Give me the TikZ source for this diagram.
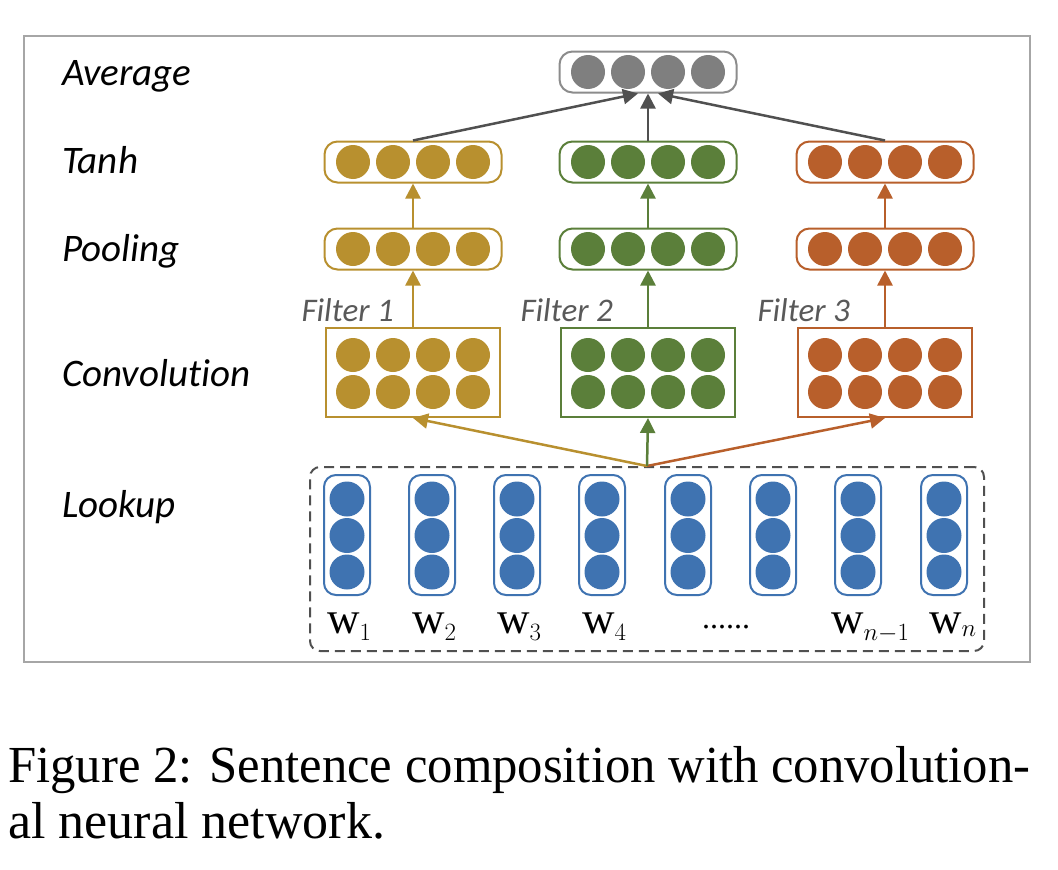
\documentclass[tikz,border=0pt]{standalone}
\usepackage{fontspec}
\setmainfont{Liberation Serif}
\newfontfamily\calib[Ligatures=NoCommon]{Carlito}
\usetikzlibrary{arrows.meta}
\definecolor{cy}{HTML}{B8902F}
\definecolor{cg}{HTML}{5B7F3A}
\definecolor{co}{HTML}{B85F2B}
\definecolor{cb}{HTML}{3F73B1}
\definecolor{cgr}{HTML}{7F7F7F}
\definecolor{avgb}{HTML}{8C8C8C}
\definecolor{arr}{HTML}{505050}
\definecolor{framec}{HTML}{A6A6A6}
\definecolor{filtc}{HTML}{595959}
\tikzset{
  dot/.style={circle, fill=#1, minimum size=34pt, inner sep=0pt},
  wdot/.style={circle, fill=cb, minimum size=35pt, inner sep=0pt},
  rowbox/.style={draw=#1, line width=2pt, rounded corners=13pt, minimum width=177pt, minimum height=41pt, inner sep=0pt},
  convbox/.style={draw=#1, line width=2pt, minimum width=174pt, minimum height=89pt, inner sep=0pt},
  wordbox/.style={draw=cb, line width=2pt, rounded corners=12pt, minimum width=46pt, minimum height=120pt, inner sep=0pt},
  lookbox/.style={draw=arr, line width=2pt, dash pattern=on 10pt off 6pt, rounded corners=10pt, minimum width=674pt, minimum height=184pt, inner sep=0pt},
  framebox/.style={draw=framec, line width=1.5pt, minimum width=1006pt, minimum height=626pt, inner sep=0pt},
  lab/.style={font=\calib\itshape\fontsize{39}{41}\selectfont, anchor=base west, inner sep=0pt},
  filt/.style={font=\calib\itshape\fontsize{33}{35}\selectfont, text=filtc, anchor=base east, inner sep=0pt},
  wlab/.style={font=\fontsize{45}{47}\selectfont, anchor=base west, inner sep=0pt},
  ar/.style={draw=#1, line width=2.5pt, -{Triangle[length=15pt,width=15pt]}},
  captext/.style={font=\fontsize{52}{58}\selectfont, anchor=base west, inner sep=0pt}
}
\begin{document}
\begin{tikzpicture}[x=1pt,y=-1pt]
\useasboundingbox (0,0) rectangle (1058,870);
\node[framebox] (frame) at (527,349) {};

% left labels
\node[lab] (lAvg) at (62,85) {Average};
\node[lab] (lTanh) at (62,173) {Tanh};
\node[lab] (lPool) at (62,261) {Pooling};
\node[lab] (lConv) at (62,386) {Convolution};
\node[lab] (lLook) at (62,517) {Lookup};

% average
\node[rowbox=avgb] (avg) at (648,72) {};
\foreach \i/\dx in {1/-60,2/-20,3/20,4/60}
  \node[dot=cgr] (avg\i) at (648+\dx,72) {};

% columns
\foreach \c/\x/\col/\f/\fx in {Y/413/cy/1/394, G/648/cg/2/613, O/885/co/3/850}{
  \node[rowbox=\col] (\c-tanh) at (\x,162) {};
  \node[rowbox=\col] (\c-pool) at (\x,249) {};
  \node[convbox=\col] (\c-conv) at (\x,372.5) {};
  \foreach \i/\dx in {1/-60,2/-20,3/20,4/60}{
    \node[dot=\col] (\c-tanh\i) at (\x+\dx,162) {};
    \node[dot=\col] (\c-pool\i) at (\x+\dx,249) {};
    \node[dot=\col] (\c-convA\i) at (\x+\dx,355) {};
    \node[dot=\col] (\c-convB\i) at (\x+\dx,392) {};
  }
  \draw[ar=\col] (\c-conv.north) -- (\c-pool.south);
  \draw[ar=\col] (\c-pool.north) -- (\c-tanh.south);
  \node[filt] (filter\f) at (\fx,321) {Filter \f};
}

% tanh -> average
\draw[ar=arr] (Y-tanh.north) -- ([xshift=-10pt]avg.south);
\draw[ar=arr] (O-tanh.north) -- ([xshift=10pt]avg.south);
\draw[ar=arr] (G-tanh.north) -- (avg.south);

% lookup
\node[lookbox] (look) at (647,559) {};
\foreach \i/\x in {1/347,2/432,3/517,4/602,5/688,6/773,7/858,8/944}{
  \node[wordbox] (w\i) at (\x,535) {};
  \node[wdot] (w\i a) at (\x,499) {};
  \node[wdot] (w\i b) at (\x,535.5) {};
  \node[wdot] (w\i c) at (\x,572) {};
}
\node[wlab] (t1) at (327,633) {$\mathrm{w}_1$};
\node[wlab] (t2) at (412,633) {$\mathrm{w}_2$};
\node[wlab] (t3) at (497,633) {$\mathrm{w}_3$};
\node[wlab] (t4) at (582,633) {$\mathrm{w}_4$};
\node[font=\fontsize{32}{34}\selectfont, anchor=base west, inner sep=0pt] (tdots) at (702,628) {......};
\node[wlab] (t7) at (831,633) {$\mathrm{w}_{n-1}$};
\node[wlab] (t8) at (929,633) {$\mathrm{w}_n$};

\draw[ar=cy] (look.north) -- (Y-conv.south);
\draw[ar=co] (look.north) -- (O-conv.south);
\draw[ar=cg] (look.north) -- (G-conv.south);

% caption
\node[captext] (cap1) at (8,782) {\resizebox{1022pt}{\height}{Figure 2: Sentence composition with convolution-}};
\node[captext] (cap2) at (8,838) {al neural network.};
\end{tikzpicture}
\end{document}
